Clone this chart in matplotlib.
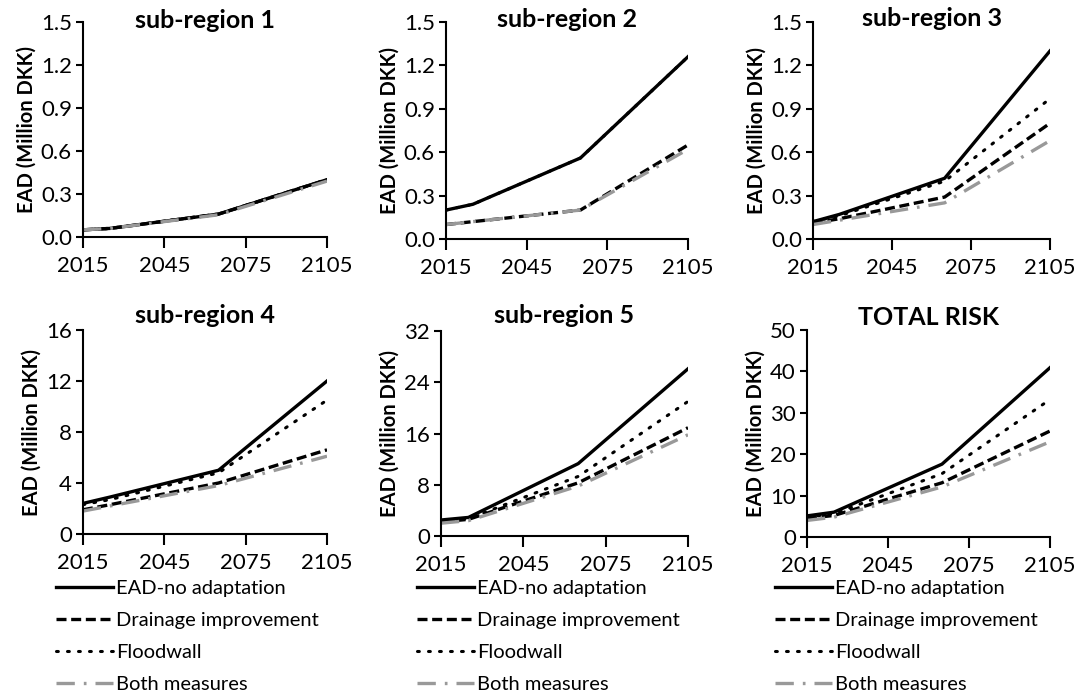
import matplotlib
matplotlib.use("Agg")
import matplotlib.pyplot as plt
import numpy as np

plt.rcParams["font.family"] = ["Lato", "DejaVu Sans"]

years = [2015, 2025, 2065, 2105]
series_labels = ["EAD-no adaptation", "Drainage improvement", "Floodwall", "Both measures"]

# EAD values (million DKK) per panel, order: no adaptation, drainage, floodwall, both
sub1 = [[0.05, 0.06, 0.16, 0.40],
        [0.05, 0.06, 0.16, 0.40],
        [0.05, 0.06, 0.16, 0.40],
        [0.05, 0.06, 0.155, 0.39]]
sub2 = [[0.20, 0.24, 0.56, 1.26],
        [0.10, 0.12, 0.20, 0.65],
        [0.20, 0.24, 0.56, 1.26],
        [0.10, 0.12, 0.20, 0.62]]
sub3 = [[0.12, 0.17, 0.42, 1.30],
        [0.11, 0.14, 0.29, 0.80],
        [0.12, 0.16, 0.40, 0.97],
        [0.10, 0.13, 0.25, 0.68]]
sub4 = [[2.4, 2.9, 5.0, 12.0],
        [1.9, 2.3, 4.0, 6.6],
        [2.3, 2.7, 4.8, 10.5],
        [1.8, 2.2, 3.8, 6.1]]
sub5 = [[2.5, 2.9, 11.3, 26.1],
        [2.2, 2.6, 8.3, 16.9],
        [2.3, 2.7, 9.3, 21.0],
        [2.0, 2.4, 7.8, 15.8]]
total = [[5.1, 6.0, 17.6, 40.9],
         [4.5, 5.2, 13.1, 25.6],
         [4.8, 5.6, 15.3, 33.2],
         [4.0, 4.8, 12.1, 23.0]]

titles = ["sub-region 1", "sub-region 2", "sub-region 3", "sub-region 4", "sub-region 5", "TOTAL RISK"]
panels = [sub1, sub2, sub3, sub4, sub5, total]
y_ticks = [np.arange(0, 1.51, 0.3), np.arange(0, 1.51, 0.3), np.arange(0, 1.51, 0.3),
           np.arange(0, 16.1, 4), np.arange(0, 32.1, 8), np.arange(0, 50.1, 10)]
y_fmt = ["{:.1f}", "{:.1f}", "{:.1f}", "{:.0f}", "{:.0f}", "{:.0f}"]
x_ticks = [2015, 2045, 2075, 2105]

styles = [
    dict(color="black", linestyle="-", linewidth=2.4),
    dict(color="black", linestyle=(0, (3, 1.4)), linewidth=2.4),
    dict(color="black", linestyle=(0, (0.6, 3.0)), linewidth=2.2, dash_capstyle="round"),
    dict(color="#999999", linestyle=(0, (5.5, 2.7, 0.8, 2.7)), linewidth=2.4),
]

W, H = 1078, 697
# axes boxes in pixels: left, top, right, bottom
boxes = [
    (83, 22, 327, 237),
    (446, 22, 688, 239),
    (813, 22, 1050, 239),
    (83, 330, 327, 534),
    (441, 331, 688, 536),
    (807, 330, 1050, 537),
]
# title baseline offset above the axes top, pixels (negative = inside)
title_off = [-6, -5, -4, 7, 8, 5]
legend_anchor = [(56, 580), (417, 580), (775, 580)]

fig = plt.figure(figsize=(W / 100, H / 100), dpi=100)

for k, (vals, box) in enumerate(zip(panels, boxes)):
    l, t, r, b = box
    ax = fig.add_axes([l / W, 1 - b / H, (r - l) / W, (b - t) / H])
    handles = []
    for v, st in zip(vals, styles):
        h, = ax.plot(years, v, **st)
        handles.append(h)
    ax.set_xlim(2015, 2105)
    ax.set_ylim(y_ticks[k][0], y_ticks[k][-1])
    ax.set_xticks(x_ticks)
    ax.set_yticks(y_ticks[k])
    ax.set_yticklabels([y_fmt[k].format(y) for y in y_ticks[k]])
    for s in ("top", "right"):
        ax.spines[s].set_visible(False)
    for s in ("left", "bottom"):
        ax.spines[s].set_linewidth(1.5)
    ax.tick_params(axis="both", labelsize=16, width=1.5, colors="black")
    ax.tick_params(axis="x", length=8, direction="out", pad=6)
    ax.tick_params(axis="y", length=5, direction="out", pad=3)
    ax.set_title(titles[k], fontsize=18, fontweight="bold", pad=0,
                 y=1 + title_off[k] / (b - t))
    ax.set_ylabel("EAD (Million DKK)", fontsize=14.5, fontweight="bold", labelpad=3)
    for lab in ax.get_xticklabels() + ax.get_yticklabels():
        lab.set_clip_on(False)
    if k >= 3:
        lx, ly = legend_anchor[k - 3]
        fig.legend(handles, series_labels, loc="upper left",
                   bbox_to_anchor=(lx / W, 1 - ly / H), frameon=False,
                   fontsize=14.5, handlelength=2.85, handletextpad=0.15,
                   labelspacing=0.74, borderpad=0, borderaxespad=0)

fig.savefig("out.png", dpi=100)
